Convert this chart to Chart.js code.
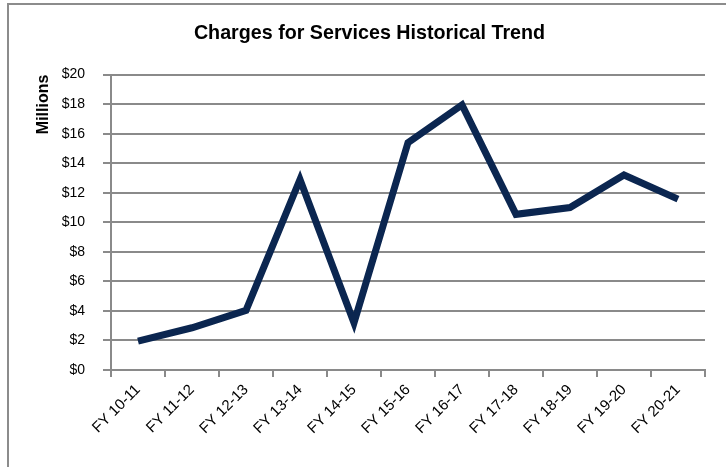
<!DOCTYPE html>
<html>
<head>
<meta charset="utf-8">
<script src="https://cdn.jsdelivr.net/npm/chart.js@4"></script>
<style>
  html, body { margin: 0; padding: 0; background: #fff; overflow: hidden; }
  #frame { position: absolute; left: 7px; top: 3px; width: 760px; height: 500px; border: 2px solid #8c8c8c; }
  #wrap { position: absolute; left: 0; top: 0; width: 726px; height: 467px; }
</style>
</head>
<body>
<div id="frame"></div>
<div id="wrap"><canvas id="myChart"></canvas></div>
<script>
const years = ["FY 10-11", "FY 11-12", "FY 12-13", "FY 13-14", "FY 14-15", "FY 15-16", "FY 16-17", "FY 17-18", "FY 18-19", "FY 19-20", "FY 20-21"];
const charges = [1.95, 2.86, 4.04, 12.9, 3.2, 15.4, 17.95, 10.54, 11.0, 13.2, 11.57];
const yTicks = [0, 2, 4, 6, 8, 10, 12, 14, 16, 18, 20];

const ctx = document.getElementById('myChart');
new Chart(ctx, {
    type: 'line',
    data: {
        labels: years,
        datasets: [{
            label: 'Charges for Services',
            data: charges,
            borderColor: '#0b2650',
            borderWidth: 7,
            borderJoinStyle: 'miter',
            borderCapStyle: 'butt',
            pointRadius: 0,
            tension: 0
        }]
    },
    options: {
        responsive: true,
        maintainAspectRatio: false,
        animation: false,
        layout: { padding: { left: 34, right: 21, top: 0, bottom: 0 } },
        plugins: {
            legend: { display: false },
            tooltip: { enabled: false },
            title: {
                display: true,
                text: 'Charges for Services Historical Trend',
                color: '#000',
                font: { family: 'Liberation Sans', size: 19.7, weight: 'bold' },
                padding: { top: 22, bottom: 29 }
            }
        },
        scales: {
            y: {
                min: 0,
                max: 20,
                afterBuildTicks: s => { s.ticks = yTicks.map(v => ({ value: v })); },
                afterFit: s => { s.width = 77; },
                ticks: {
                    callback: v => '$' + v,
                    color: '#000',
                    padding: 18,
                    font: { family: 'Liberation Sans', size: 14 }
                },
                grid: { color: '#8a8a8a', lineWidth: 2, tickLength: 8 },
                border: { color: '#8a8a8a', width: 2 },
                title: {
                    display: true,
                    text: 'Millions',
                    align: 'end',
                    color: '#000',
                    font: { family: 'Liberation Sans', size: 16, weight: 'bold' },
                    padding: { top: 0, bottom: 0 }
                }
            },
            x: {
                offset: true,
                afterFit: s => { s.height = 97; },
                ticks: {
                    color: '#000',
                    maxRotation: 45,
                    minRotation: 45,
                    padding: 4,
                    font: { family: 'Liberation Sans', size: 15 }
                },
                grid: { offset: true, drawOnChartArea: false, color: '#8a8a8a', lineWidth: 2, tickLength: 7 },
                border: { color: '#8a8a8a', width: 2 }
            }
        }
    }
});
</script>
</body>
</html>
